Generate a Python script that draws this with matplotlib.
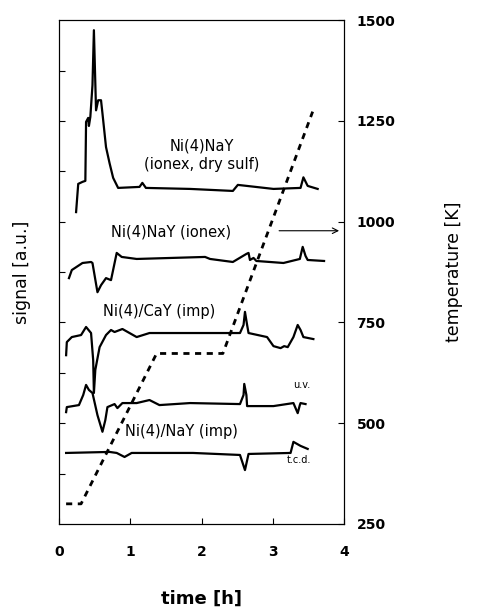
import numpy as np
import matplotlib.pyplot as plt

plt.rcParams['font.family'] = ['DejaVu Sans']

# Ni(4)NaY (ionex, dry sulf)
t1 = [0.24, 0.27, 0.33, 0.37, 0.38, 0.41, 0.42, 0.44, 0.47, 0.49, 0.52, 0.55, 0.59, 0.61, 0.66, 0.71, 0.76, 0.83,
      1.13, 1.17, 1.22, 1.84, 2.44, 2.51, 3.01, 3.39, 3.43, 3.49, 3.63]
s1 = [6.19, 6.75, 6.79, 6.81, 7.98, 8.06, 7.90, 8.08, 8.71, 9.80, 8.21, 8.41, 8.41, 8.15, 7.48, 7.16, 6.87, 6.67,
      6.69, 6.77, 6.67, 6.65, 6.61, 6.73, 6.65, 6.67, 6.88, 6.71, 6.65]

# Ni(4)NaY (ionex)
t2 = [0.14, 0.18, 0.33, 0.45, 0.47, 0.54, 0.59, 0.66, 0.73, 0.81, 0.88, 1.09, 2.05, 2.12, 2.44, 2.63, 2.66, 2.68,
      2.73, 2.77, 3.15, 3.38, 3.42, 3.46, 3.49, 3.72]
s2 = [4.88, 5.04, 5.18, 5.20, 5.18, 4.60, 4.74, 4.88, 4.84, 5.38, 5.30, 5.26, 5.30, 5.26, 5.20, 5.36, 5.38, 5.24,
      5.28, 5.22, 5.18, 5.26, 5.50, 5.32, 5.24, 5.22]

# Ni(4)/CaY (imp)
t3 = [0.10, 0.11, 0.18, 0.31, 0.38, 0.45, 0.48, 0.49, 0.51, 0.57, 0.66, 0.73, 0.78, 0.89, 0.99, 1.09, 1.27, 1.60,
      2.54, 2.59, 2.61, 2.64, 2.66, 2.92, 3.01, 3.11, 3.16, 3.21, 3.29, 3.35, 3.39, 3.43, 3.57]
s3 = [3.35, 3.61, 3.71, 3.75, 3.91, 3.79, 3.25, 2.60, 3.06, 3.51, 3.75, 3.85, 3.81, 3.87, 3.79, 3.71, 3.79, 3.79,
      3.79, 3.95, 4.21, 3.95, 3.79, 3.71, 3.53, 3.49, 3.53, 3.51, 3.71, 3.95, 3.85, 3.71, 3.67]

# Ni(4)/NaY (imp), u.v.
t4 = [0.10, 0.11, 0.28, 0.34, 0.38, 0.42, 0.47, 0.54, 0.61, 0.65, 0.68, 0.78, 0.82, 0.89, 1.09, 1.27, 1.41, 1.84,
      2.54, 2.59, 2.60, 2.63, 2.64, 3.01, 3.29, 3.32, 3.35, 3.38, 3.39, 3.46]
s4 = [2.22, 2.32, 2.36, 2.56, 2.76, 2.66, 2.60, 2.16, 1.83, 2.06, 2.32, 2.38, 2.30, 2.40, 2.40, 2.46, 2.36, 2.40,
      2.38, 2.56, 2.78, 2.56, 2.34, 2.34, 2.40, 2.30, 2.20, 2.36, 2.40, 2.38]

# Ni(4)/NaY (imp), t.c.d.
t5 = [0.10, 0.71, 0.81, 0.92, 1.02, 1.88, 2.54, 2.61, 2.66, 3.25, 3.29, 3.39, 3.49]
s5 = [1.41, 1.43, 1.41, 1.33, 1.41, 1.41, 1.37, 1.07, 1.39, 1.41, 1.63, 1.55, 1.49]

# temperature programme
t_temp = [0.10, 0.31, 1.37, 2.30, 3.56]
T_temp = [300, 300, 673, 673, 1273]

fig = plt.figure(figsize=(4.78, 6.10), dpi=100)
ax = fig.add_axes([0.1234, 0.141, 0.5963, 0.826])
ax2 = ax.twinx()

for t, s in [(t1, s1), (t2, s2), (t3, s3), (t4, s4), (t5, s5)]:
    ax.plot(t, s, color='black', lw=1.6, solid_joinstyle='round')

ax2.plot(t_temp, T_temp, color='black', lw=2.0, dashes=(2.2, 2.0))

ax.set_xlim(0, 4)
ax.set_ylim(0, 10)
ax2.set_ylim(250, 1500)
ax.set_xticks([0, 1, 2, 3, 4])
ax.set_yticks(np.arange(1, 10))
ax.set_yticklabels([])
ax2.set_yticks([250, 500, 750, 1000, 1250, 1500])
ax.tick_params(axis='x', direction='in', length=4, labelsize=10, pad=15)
ax.tick_params(axis='y', direction='in', length=4)
ax2.tick_params(axis='y', direction='in', length=4, labelsize=10, pad=9)
for lab in ax.get_xticklabels() + ax2.get_yticklabels():
    lab.set_fontweight('bold')

ax.set_xlabel('time [h]', fontsize=13, fontweight='bold', labelpad=22)
ax.set_ylabel('signal [a.u.]', fontsize=12.5, labelpad=17)
ax2.set_ylabel('temperature [K]', fontsize=12.5, labelpad=36)

ax.text(2.0, 7.5, 'Ni(4)NaY', fontsize=10.5, ha='center', va='center')
ax.text(2.0, 7.13, '(ionex, dry sulf)', fontsize=10.5, ha='center', va='center')
ax.text(0.73, 5.8, 'Ni(4)NaY (ionex)', fontsize=10.5, ha='left', va='center')
ax.text(0.62, 4.22, 'Ni(4)/CaY (imp)', fontsize=10.5, ha='left', va='center')
ax.text(3.28, 2.75, 'u.v.', fontsize=7, ha='left', va='center')
ax.text(0.93, 1.83, 'Ni(4)/NaY (imp)', fontsize=10.5, ha='left', va='center')
ax.text(3.2, 1.27, 't.c.d.', fontsize=7, ha='left', va='center')
ax.annotate('', xy=(3.97, 5.82), xytext=(3.05, 5.82),
            arrowprops=dict(arrowstyle='->', color='black', lw=0.8))

fig.savefig('out.png', dpi=100)
